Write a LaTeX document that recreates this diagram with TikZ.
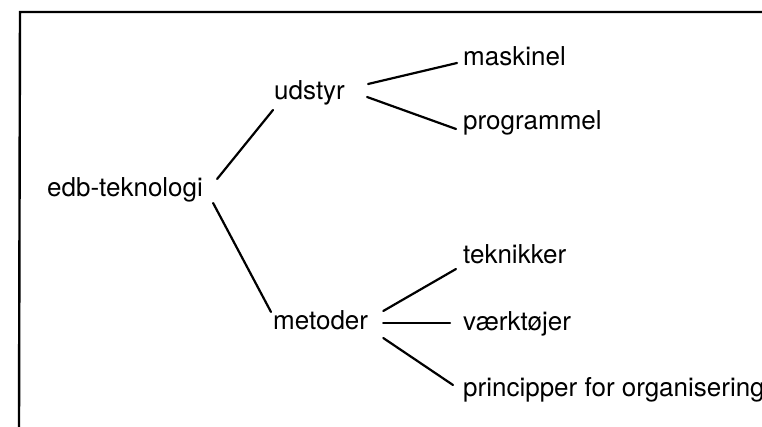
\documentclass[tikz,border=0pt]{standalone}
\usepackage{fontspec}
\setmainfont{TeX Gyre Heros}
\usepackage{tikz}

\begin{document}
\begin{tikzpicture}[
  x=1pt, y=-1pt,
  every node/.style={font=\fontsize{26}{31}\selectfont, inner sep=0pt, anchor=base west},
  branch/.style={line width=2.2pt, line cap=round},
  frame/.style={line width=2.4pt}
  ]

\useasboundingbox (0,0) rectangle (762,427);

% frame round the tree
\draw[frame] (762,12) -- (20,12) -- (19,427);

\node (edb) at (47,197) {edb-teknologi};
\node (udstyr) at (274,100) {udstyr};
\node (metoder) at (273,329) {metoder};
\node (maskinel) at (463,66) {maskinel};
\node (programmel) at (463,130) {programmel};
\node (teknikker) at (463,264) {teknikker};
\node (vaerktoejer) at (463,330) {værktøjer};
\node (principper) at (463,396) {principper for organisering};

% first level
\draw[branch] ([shift={(14,-18)}]edb.base east) -- ([shift={(-1,10)}]udstyr.base west);
\draw[branch] ([shift={(10,6)}]edb.base east) -- ([shift={(-2,-17)}]metoder.base west);

% udstyr
\draw[branch] ([shift={(23,-16)}]udstyr.base east) -- ([shift={(-6,-3)}]maskinel.base west);
\draw[branch] ([shift={(22,-3)}]udstyr.base east) -- ([shift={(-7,-1)}]programmel.base west);

% metoder
\draw[branch] ([shift={(15,-18)}]metoder.base east) -- ([shift={(-7,5)}]teknikker.base west);
\draw[branch] ([shift={(15,-6)}]metoder.base east) -- ([shift={(-13,-7)}]vaerktoejer.base west);
\draw[branch] ([shift={(15,9)}]metoder.base east) -- ([shift={(-10,-11)}]principper.base west);

\end{tikzpicture}
\end{document}
